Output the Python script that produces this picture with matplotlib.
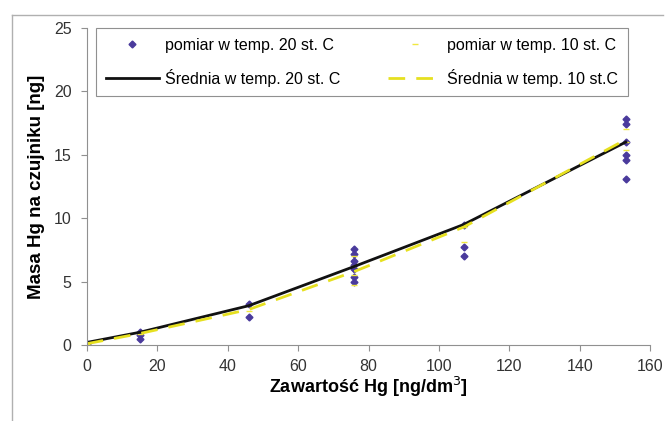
import numpy as np
import matplotlib.pyplot as plt
from matplotlib.lines import Line2D

plt.rcParams['font.family'] = ['Liberation Sans', 'DejaVu Sans']

# measurements at 20 C
x20 = [0, 15, 15, 15, 46, 46, 76, 76, 76, 76, 76, 76, 76, 107, 107, 107,
       153, 153, 153, 153, 153, 153]
y20 = [0.1, 0.5, 0.8, 1.0, 2.2, 3.2, 7.6, 7.2, 6.6, 6.3, 6.0, 5.4, 5.0, 9.5, 7.7, 7.0,
       17.8, 17.4, 16.0, 15.0, 14.6, 13.1]
# measurements at 10 C
x10 = [0, 15, 46, 76, 76, 76, 76, 107, 107, 153, 153, 153]
y10 = [0.1, 0.9, 2.7, 7.0, 6.2, 5.5, 4.7, 9.3, 8.1, 17.0, 16.0, 15.4]
# mean curves
xm = [0, 15, 46, 76, 107, 153]
ym20 = [0.2, 1.0, 3.1, 6.2, 9.5, 16.0]
ym10 = [0.1, 0.9, 2.8, 5.8, 9.3, 16.2]

fig = plt.figure(figsize=(6.67, 4.21), dpi=100)
ax = fig.add_axes([0.130, 0.1805, 0.845, 0.753])

# outer frame (left and top edges only visible)
fig.add_artist(Line2D([0.018, 0.018], [0.0, 0.964], transform=fig.transFigure,
                      color='#b0b0b0', linewidth=1.0))
fig.add_artist(Line2D([0.018, 0.994], [0.964, 0.964], transform=fig.transFigure,
                      color='#b0b0b0', linewidth=1.0))

p20, = ax.plot(x20, y20, linestyle='none', marker='D', markersize=3.5, color='#4a3a9c',
               label='pomiar w temp. 20 st. C')
p10, = ax.plot(x10, y10, linestyle='none', marker='_', markersize=5, color='#f0e840',
               label='pomiar w temp. 10 st. C')
s20, = ax.plot(xm, ym20, color='#111111', linewidth=2, label='Średnia w temp. 20 st. C')
s10, = ax.plot(xm, ym10, color='#e6e020', linewidth=2, dashes=(6, 4),
               label='Średnia w temp. 10 st.C')

ax.set_xlim(0, 160)
ax.set_ylim(0, 25)
ax.set_xticks(range(0, 161, 20))
ax.set_yticks(range(0, 26, 5))
for s in ['top', 'right']:
    ax.spines[s].set_visible(False)
for s in ['left', 'bottom']:
    ax.spines[s].set_color('#909090')
ax.tick_params(colors='#909090', labelcolor='#333333', labelsize=11.5, length=4)
ax.tick_params(axis='x', pad=6)
ax.tick_params(axis='y', pad=7)

ax.set_xlabel('Zawartość Hg [ng/dm$^3$]', fontsize=13, fontweight='bold', labelpad=1)
ax.set_ylabel('Masa Hg na czujniku [ng]', fontsize=13.5, fontweight='bold', labelpad=6)

leg = ax.legend([p20, s20, p10, s10],
                [h.get_label() for h in [p20, s20, p10, s10]],
                ncol=2, loc='upper left', bbox_to_anchor=(0.017, 1.0), fontsize=11.5,
                fancybox=False, edgecolor='#909090', framealpha=1,
                columnspacing=3.0, handlelength=3.3, handletextpad=0.4,
                labelspacing=1.0, borderpad=0.6, borderaxespad=0.0)
leg.get_frame().set_linewidth(0.8)

fig.savefig('out.png', dpi=100)
